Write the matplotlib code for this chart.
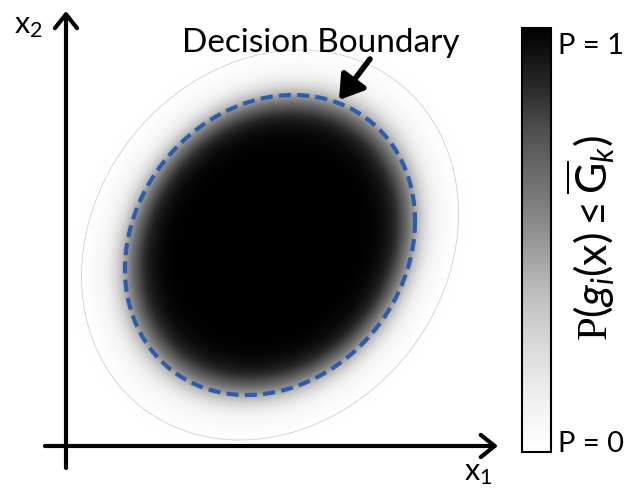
import matplotlib
matplotlib.use("Agg")
import matplotlib.pyplot as plt
from matplotlib import cm, colors
import numpy as np

plt.rcParams['font.family'] = ['Lato', 'DejaVu Sans']
plt.rcParams['mathtext.fontset'] = 'custom'
plt.rcParams['mathtext.rm'] = 'Lato'
plt.rcParams['mathtext.it'] = 'Lato:italic'
plt.rcParams['mathtext.tt'] = 'Liberation Serif'

# decision boundary (ellipse), in pixel units (y down)
center = [270.0, 245.0]
half_width = 145.0
half_height = 150.0
cross_term = -3500.0
edge_level = 0.99      # r where P = 0.5
edge_softness = 0.07   # width of the fade
outer_level = 1.3      # faint outer contour

# colorbar labels
cbar_top = 'P = 1'
cbar_bottom = 'P = 0'
cbar_label = r'$\mathtt{P}(g_i(\mathrm{x}) \leq \overline{\mathrm{G}}_k)$'

fig = plt.figure(figsize=(6.27, 4.92), dpi=100)
ax = fig.add_axes([0, 0, 1, 1])
ax.set_xlim(0, 627)
ax.set_ylim(492, 0)
ax.axis('off')

sigma = np.array([[half_width**2, cross_term], [cross_term, half_height**2]])
sinv = np.linalg.inv(sigma)

xs = np.linspace(70, 500, 600)
ys = np.linspace(15, 470, 600)
X, Y = np.meshgrid(xs, ys)
dx = X - center[0]
dy = Y - center[1]
R = np.sqrt(sinv[0, 0]*dx**2 + 2*sinv[0, 1]*dx*dy + sinv[1, 1]*dy**2)
P = 1.0 / (1.0 + np.exp((R - edge_level) / edge_softness))

ax.imshow(P, extent=(xs[0], xs[-1], ys[-1], ys[0]), origin='upper',
          cmap='Greys', vmin=0, vmax=1, interpolation='bilinear', zorder=1)

# boundary curves
t = np.linspace(0, 2*np.pi, 400)
L = np.linalg.cholesky(sigma)
ring = L @ np.vstack([np.cos(t), np.sin(t)])
ax.plot(center[0] + outer_level*ring[0], center[1] + outer_level*ring[1],
        color='#d0d0d0', lw=0.6, zorder=2)
ax.plot(center[0] + ring[0], center[1] + ring[1], color='#2f5ca6', lw=3,
        dashes=(2.9, 1.5), zorder=3)

# coordinate axes
ax.annotate('', xy=(66, 11), xytext=(66, 468),
            arrowprops=dict(arrowstyle='->, head_length=0.5, head_width=0.4',
                            lw=3, color='black', mutation_scale=20, shrinkA=0, shrinkB=0))
ax.annotate('', xy=(498, 446), xytext=(45, 446),
            arrowprops=dict(arrowstyle='->, head_length=0.5, head_width=0.4',
                            lw=3, color='black', mutation_scale=20, shrinkA=0, shrinkB=0))
ax.text(14, 33, r'$\mathrm{x}_\mathrm{2}$', fontsize=22, ha='left', va='baseline')
ax.text(464, 480, r'$\mathrm{x}_\mathrm{1}$', fontsize=22, ha='left', va='baseline')

# decision boundary callout
ax.text(321, 52, 'Decision Boundary', fontsize=24, ha='center', va='baseline')
ax.annotate('', xy=(339, 100), xytext=(370, 59),
            arrowprops=dict(arrowstyle='-|>, head_length=0.7, head_width=0.45',
                            lw=4, color='black', mutation_scale=20, shrinkA=0, shrinkB=0))

# colorbar
cax = fig.add_axes([522/627, (492-452)/492, 29/627, (452-28)/492])
sm = cm.ScalarMappable(norm=colors.Normalize(0, 1), cmap='Greys')
cb = fig.colorbar(sm, cax=cax)
cb.set_ticks([])
cb.outline.set_linewidth(1.5)
fig.text(624/627, 1 - 54/492, cbar_top, fontsize=21, ha='right', va='baseline')
fig.text(624/627, 1 - 452/492, cbar_bottom, fontsize=21, ha='right', va='baseline')
fig.text(591/627, 1 - 238/492, cbar_label, fontsize=31, rotation=90,
         ha='center', va='center')

fig.savefig('out.png', dpi=100)
